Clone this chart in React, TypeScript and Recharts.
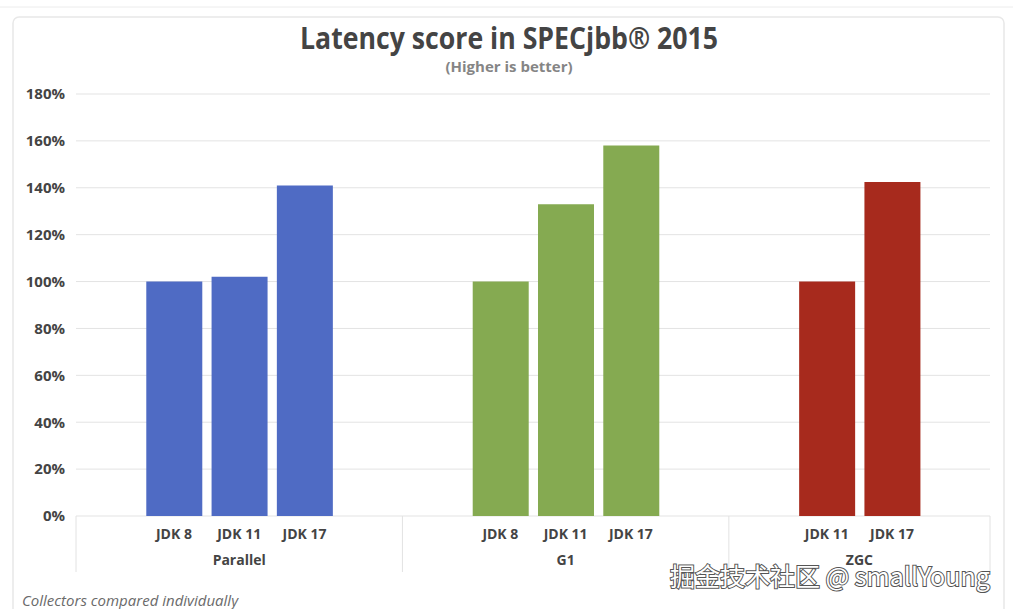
import React from "react";
import { BarChart, Bar, XAxis, YAxis, CartesianGrid, Cell } from "recharts";

// ---- data ----
const collectors = ["Parallel", "G1", "ZGC"];
const parallelJdks = ["JDK 8", "JDK 11", "JDK 17"];
const g1Jdks = ["JDK 8", "JDK 11", "JDK 17"];
const zgcJdks = ["JDK 11", "JDK 17"];
const parallelScores = [100, 102, 141];
const g1Scores = [100, 133, 158];
const zgcScores = [100, 142.5];
const collectorColors = ["#4f6bc4", "#85aa51", "#a72a1d"];
const yTicks = [0, 20, 40, 60, 80, 100, 120, 140, 160, 180];

const groups = [
  { name: collectors[0], jdks: parallelJdks, scores: parallelScores, color: collectorColors[0] },
  { name: collectors[1], jdks: g1Jdks, scores: g1Scores, color: collectorColors[1] },
  { name: collectors[2], jdks: zgcJdks, scores: zgcScores, color: collectorColors[2] },
];

type Row = {
  key: string;
  label: string;
  value: number | null;
  color: string;
  group: string;
  first: boolean;
  last: boolean;
  groupSize: number;
};

const data: Row[] = [];
groups.forEach((g, gi) => {
  const size = g.jdks.length + 2;
  data.push({ key: `${g.name}-pad-a`, label: "", value: null, color: g.color, group: g.name, first: true, last: false, groupSize: size });
  g.jdks.forEach((j, i) => {
    data.push({ key: `${g.name}-${j}`, label: j, value: g.scores[i], color: g.color, group: g.name, first: false, last: false, groupSize: size });
  });
  data.push({ key: `${g.name}-pad-b`, label: "", value: null, color: g.color, group: g.name, first: false, last: gi === groups.length - 1, groupSize: size });
});

// ---- layout ----
const W = 1013;
const H = 609;
const PLOT_LEFT = 76;
const PLOT_RIGHT = 990;
const PLOT_TOP = 94;
const PLOT_BOTTOM = 516;
const SLOT = (PLOT_RIGHT - PLOT_LEFT) / data.length;
const TEXT = "#444";
const FONT = "'Open Sans', 'DejaVu Sans', sans-serif";

const XTick = (props: any) => {
  const { x, payload } = props;
  const row = data.find((r) => r.key === payload.value);
  if (!row) return null;
  const left = x - SLOT / 2;
  const right = x + SLOT / 2;
  return (
    <g>
      {row.label && (
        <text x={x} y={PLOT_BOTTOM + 17} textAnchor="middle" dominantBaseline="central" fill={TEXT} fontFamily={FONT} fontWeight={700} fontSize={14}>
          {row.label}
        </text>
      )}
      {row.first && <line x1={left} x2={left} y1={PLOT_BOTTOM} y2={PLOT_BOTTOM + 56} stroke="#e2e2e2" strokeWidth={1} />}
      {row.first && (
        <text x={left + (row.groupSize * SLOT) / 2} y={PLOT_BOTTOM + 43} textAnchor="middle" dominantBaseline="central" fill={TEXT} fontFamily={FONT} fontWeight={700} fontSize={14}>
          {row.group}
        </text>
      )}
      {row.last && <line x1={right} x2={right} y1={PLOT_BOTTOM} y2={PLOT_BOTTOM + 56} stroke="#e2e2e2" strokeWidth={1} />}
    </g>
  );
};

export default function App() {
  return (
    <div style={{ position: "absolute", left: 0, top: 0, width: W, height: H, background: "#fff", overflow: "hidden" }}>
      <svg width={W} height={H} style={{ position: "absolute", left: 0, top: 0 }}>
        <line x1={0} x2={W} y1={7} y2={7} stroke="#ececec" strokeWidth={1} />
        <rect x={13} y={17} width={991} height={620} rx={6} fill="none" stroke="#e8e8e8" strokeWidth={1.5} />
      </svg>
      <div style={{ position: "absolute", left: 0, top: 0 }}>
        <BarChart
          width={W}
          height={H}
          data={data}
          margin={{ top: PLOT_TOP, right: W - PLOT_RIGHT, bottom: 0, left: 0 }}
          barSize={56}
        >
          <CartesianGrid vertical={false} stroke="#e3e3e3" strokeWidth={1} />
          <YAxis
            width={PLOT_LEFT}
            domain={[0, 180]}
            ticks={yTicks}
            interval={0}
            axisLine={false}
            tickLine={false}
            tickMargin={5}
            tickFormatter={(v: number) => `${v}%`}
            tick={{ fill: TEXT, fontFamily: FONT, fontWeight: 700, fontSize: 15 }}
          />
          <XAxis
            dataKey="key"
            type="category"
            height={H - PLOT_BOTTOM}
            interval={0}
            axisLine={false}
            tickLine={false}
            tick={<XTick />}
          />
          <Bar dataKey="value" isAnimationActive={false}>
            {data.map((r) => (
              <Cell key={r.key} fill={r.color} />
            ))}
          </Bar>
        </BarChart>
      </div>
      <svg width={W} height={H} style={{ position: "absolute", left: 0, top: 0, pointerEvents: "none" }}>
        <text x={509} y={37} textAnchor="middle" dominantBaseline="central" fill="#444" fontFamily={FONT} fontWeight={700} fontSize={30} textLength={418} lengthAdjust="spacingAndGlyphs">
          Latency score in SPECjbb® 2015
        </text>
        <text x={509} y={66} textAnchor="middle" dominantBaseline="central" fill="#858585" fontFamily={FONT} fontWeight={700} fontSize={15}>
          (Higher is better)
        </text>
        <text x={22} y={600} dominantBaseline="central" fill="#6a6a6a" fontFamily={FONT} fontStyle="italic" fontSize={15}>
          Collectors compared individually
        </text>
        <text x={670} y={575} dominantBaseline="central" fill="#ffffff" stroke="#555" strokeWidth={2} paintOrder="stroke" fontFamily="'Noto Sans CJK SC', 'Noto Sans', sans-serif" fontSize={25}>
          掘金技术社区 @ smallYoung
        </text>
      </svg>
    </div>
  );
}
